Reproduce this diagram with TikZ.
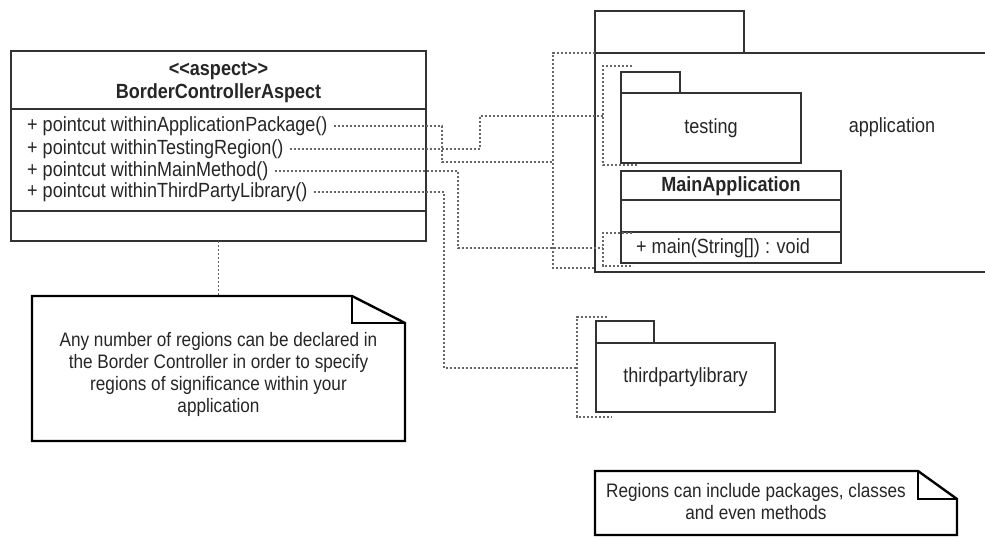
\documentclass[tikz,border=0pt]{standalone}
\usepackage{fontspec}
\setmainfont{Liberation Sans}[FakeStretch=0.88]
\begin{document}
\begin{tikzpicture}[x=1pt,y=-1pt,
  line/.style={draw=black!80, line width=1.4pt},
  notebox/.style={draw=black, line width=2.4pt, line join=miter},
  link/.style={draw=black!60, line width=1.2pt, dash pattern=on 2.2pt off 1.8pt},
  frame/.style={inner sep=0pt, outer sep=0pt, anchor=north west},
  txt/.style={font=\fontsize{20.5}{22}\selectfont, text=black!85, inner sep=0pt},
  ntxt/.style={txt, align=center, font=\fontsize{19.5}{22}\selectfont},
  btxt/.style={txt, font=\fontsize{20.5}{22}\selectfont\bfseries}]
\fill[white] (0,0) rectangle (985,538);
\useasboundingbox (0,0) rectangle (985,538);

% aspect class
\node[frame, line, minimum width=415pt, minimum height=190pt] (cls) at (11,51) {};
\draw[line] (11,109) -- (426,109);
\draw[line] (11,211) -- (426,211);
\node[btxt] (stereo) at (218.5,71) {<{}<aspect>{}>};
\node[btxt] (clsname) at (218.5,93) {BorderControllerAspect};
\node[txt, anchor=west] (a1) at (27,126) {+ pointcut withinApplicationPackage()};
\node[txt, anchor=west] (a2) at (27,149) {+ pointcut withinTestingRegion()};
\node[txt, anchor=west] (a3) at (27,171) {+ pointcut withinMainMethod()};
\node[txt, anchor=west] (a4) at (27,192) {+ pointcut withinThirdPartyLibrary()};

% application package
\node[frame, line, minimum width=149pt, minimum height=42pt] (apptab) at (595,11) {};
\node[frame, line, minimum width=400pt, minimum height=219pt] (app) at (595,53) {};
\node[txt] (applbl) at (892,127) {application};

% testing package
\node[frame, line, minimum width=59pt, minimum height=21pt] (testtab) at (621,72) {};
\node[frame, line, minimum width=180pt, minimum height=70pt] (testing) at (621,93) {};
\node[txt] (testlbl) at (testing.center) {testing};

% MainApplication class
\node[frame, line, minimum width=220pt, minimum height=92pt] (mainapp) at (621,171) {};
\draw[line] (621,200) -- (841,200);
\draw[line] (621,232) -- (841,232);
\node[btxt] (mainname) at (731,186) {MainApplication};
\node[txt, anchor=west] (mainop) at (636,248) {+ main(String[]) : void};

% thirdpartylibrary package
\node[frame, line, minimum width=58pt, minimum height=22pt] (tptab) at (596,321) {};
\node[frame, line, minimum width=179pt, minimum height=69pt] (tp) at (596,343) {};
\node[txt] (tplbl) at (tp.center) {thirdpartylibrary};

% note 1
\node[frame, minimum width=373pt, minimum height=145pt] (note1) at (32,296) {};
\draw[notebox] (note1.north west) -- (352,296) -- (405,323) -- (note1.south east) -- (note1.south west) -- cycle;
\draw[notebox] (352,296) -- (352,323) -- (405,323);
\node[ntxt] (note1txt) at (218.5,374) {Any number of regions can be declared in\\the Border Controller in order to specify\\regions of significance within your\\application};

% note 2
\node[frame, minimum width=362pt, minimum height=64pt] (note2) at (595,471) {};
\draw[notebox] (note2.north west) -- (918,471) -- (957,499) -- (note2.south east) -- (note2.south west) -- cycle;
\draw[notebox] (918,471) -- (918,499) -- (957,499);
\node[ntxt] (note2txt) at (756,502) {Regions can include packages, classes\\and even methods};

% region brackets
\coordinate (appJ) at (553,162);
\coordinate (testJ) at (603,116);
\coordinate (mainJ) at (603,248);
\coordinate (tpJ) at (577,368);
\draw[link] (app.north west) -- (553,53) -- (553,268) -- (595,268);
\draw[link] (632,66) -- (603,66) -- (603,165) -- (637,165);
\draw[link] (632,233) -- (603,233) -- (603,266) -- (633,266);
\draw[link] (607,317) -- (577,317) -- (577,417) -- (612,417);

% connectors
\coordinate (bendA) at (442,162);
\coordinate (bendB) at (480,116);
\coordinate (bendC) at (458,248);
\coordinate (bendD) at (444,368);
\draw[link] ([xshift=6pt]a1.east) -| (bendA) -- (appJ);
\draw[link] ([xshift=6pt]a2.east) -| (bendB) -- (testJ);
\draw[link] ([xshift=6pt]a3.east) -| (bendC) -- (mainJ);
\draw[link] ([xshift=6pt]a4.east) -| (bendD) -- (tpJ);
\draw[link] (cls.south) -- (note1.north);
\end{tikzpicture}
\end{document}
